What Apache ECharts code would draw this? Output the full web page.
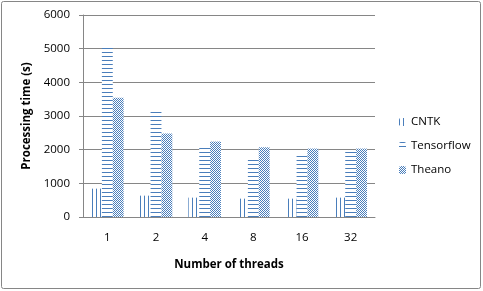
<!DOCTYPE html>
<html>
<head>
<meta charset="utf-8">
<script src="https://cdn.jsdelivr.net/npm/echarts@6/dist/echarts.min.js"></script>
<style>html,body{margin:0;padding:0;background:#fff;}#c{width:483px;height:291px;}</style>
</head>
<body>
<div id="c"></div>
<script>
var categories = ['1', '2', '4', '8', '16', '32'];
var cntk = [842, 634, 575, 545, 545, 575];
var tensorflow = [5030, 3134, 2071, 1705, 1834, 1944];
var theano = [3540, 2480, 2241, 2071, 2033, 2033];
var seriesNames = ['CNTK', 'Tensorflow', 'Theano'];
var yTicks = [0, 1000, 2000, 3000, 4000, 5000, 6000];

var BLUE = '#4a7ebb';
function pat(w, h, draw) {
  var c = document.createElement('canvas');
  c.width = w; c.height = h;
  var g = c.getContext('2d');
  g.fillStyle = '#fff'; g.fillRect(0, 0, w, h);
  g.fillStyle = BLUE;
  draw(g);
  return { image: c, repeat: 'repeat' };
}
var vPat = pat(4, 4, function (g) { g.fillRect(0, 0, 1, 4); });
var hPat = pat(4, 4, function (g) { g.fillRect(0, 0, 4, 1); });
var cPat = pat(2, 2, function (g) { g.fillRect(0, 0, 1, 1); g.fillRect(1, 1, 1, 1); });

var FONT = 'Open Sans';
var chart = echarts.init(document.getElementById('c'), null, { renderer: 'canvas' });
chart.setOption({
  animation: false,
  backgroundColor: '#fff',
  graphic: [{
    type: 'rect', shape: { x: 1.5, y: 1.5, width: 479, height: 287, r: 2 },
    style: { fill: 'none', stroke: '#868686', lineWidth: 1 }, z: 100
  }],
  grid: { left: 83, right: 108, top: 15, bottom: 74 },
  legend: {
    orient: 'vertical', left: 394, top: 111, itemWidth: 7, itemHeight: 8, itemGap: 12,
    data: seriesNames,
    textStyle: { fontFamily: FONT, fontSize: 11.5, color: '#000' }
  },
  xAxis: {
    type: 'category', data: categories,
    name: 'Number of threads', nameLocation: 'middle', nameGap: 42,
    nameTextStyle: { fontFamily: FONT, fontSize: 11.5, fontWeight: 'bold', color: '#000' },
    axisLine: { lineStyle: { color: '#868686' } },
    axisTick: { length: 4, lineStyle: { color: '#868686' } },
    axisLabel: { fontFamily: FONT, fontSize: 11.5, color: '#000', margin: 15 },
    splitLine: { show: false }
  },
  yAxis: {
    type: 'value', min: yTicks[0], max: yTicks[yTicks.length - 1], interval: 1000,
    name: 'Processing time (s)', nameLocation: 'middle', nameGap: 46, nameRotate: 90,
    nameTextStyle: { fontFamily: FONT, fontSize: 11.5, fontWeight: 'bold', color: '#000' },
    axisLine: { show: true, lineStyle: { color: '#868686' } },
    axisTick: { show: true, inside: false, length: 4, lineStyle: { color: '#868686' } },
    axisLabel: { fontFamily: FONT, fontSize: 11.5, color: '#000', margin: 13, formatter: function (v) { return String(v); } },
    splitLine: { lineStyle: { color: '#868686', width: 1 } }
  },
  series: [
    { name: seriesNames[0], type: 'bar', data: cntk, barGap: '0%', barCategoryGap: '33%', itemStyle: { color: vPat } },
    { name: seriesNames[1], type: 'bar', data: tensorflow, barGap: '0%', barCategoryGap: '33%', itemStyle: { color: hPat } },
    { name: seriesNames[2], type: 'bar', data: theano, barGap: '0%', barCategoryGap: '33%', itemStyle: { color: cPat } }
  ]
});
</script>
</body>
</html>
